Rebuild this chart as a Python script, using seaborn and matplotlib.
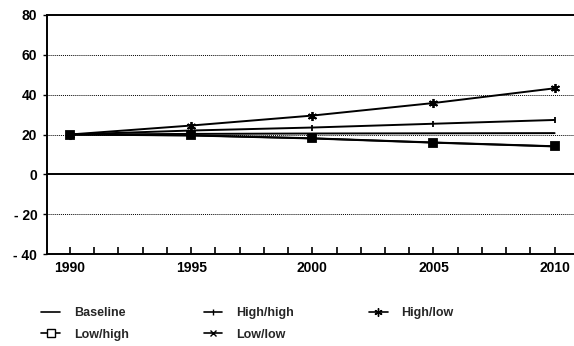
import matplotlib
matplotlib.use("Agg")
import matplotlib.pyplot as plt
import seaborn as sns
import pandas as pd
from matplotlib.ticker import MultipleLocator
from matplotlib.lines import Line2D

years = [1990, 1995, 2000, 2005, 2010]
series_names = ["Baseline", "High/high", "High/low", "Low/high", "Low/low"]
baseline = [20, 20.3, 20.5, 20.6, 20.7]
high_high = [20, 22, 23.5, 25.4, 27.3]
high_low = [20, 24.5, 29.5, 35.8, 43.2]
low_high = [20, 19.5, 18, 15.9, 14]
low_low = [20, 19.6, 18.1, 16.0, 14.1]
xtick_labels = ["1990", "1995", "2000", "2005", "2010"]
yticks = [-40, -20, 0, 20, 40, 60, 80]

values = [baseline, high_high, high_low, low_high, low_low]
markers = ["", "|", (6, 2, 0), "s", "x"]
msizes = [0, 4, 6.5, 6, 3.5]

sns.set_theme(style="white")
plt.rcParams["font.family"] = ["Liberation Sans", "DejaVu Sans"]

fig = plt.figure(figsize=(5.74, 3.46), dpi=100)
ax = fig.add_axes([47/574, 1 - 254/346, (574 - 47)/574, (254 - 15)/346])

for name, vals, mk, ms in zip(series_names, values, markers, msizes):
    df = pd.DataFrame({"year": years, "value": vals})
    sns.lineplot(data=df, x="year", y="value", ax=ax, color="black",
                 linewidth=1.4, marker=mk if mk else None, markersize=ms,
                 markeredgewidth=1.3, markeredgecolor="black",
                 markerfacecolor="black")

ax.set_xlim(1989.05, 2010.8)
ax.set_ylim(-40, 80)
ax.set_xticks(years)
ax.set_xticklabels(xtick_labels, fontsize=10, fontweight="bold")
ax.xaxis.set_minor_locator(MultipleLocator(1))
ax.set_yticks(yticks)
ax.set_yticklabels([str(v) if v >= 0 else "- " + str(-v) for v in yticks],
                   fontsize=10, fontweight="bold")
ax.tick_params(axis="x", which="both", direction="in", length=5, width=1.2,
               bottom=True, pad=5, colors="black")
ax.tick_params(axis="y", which="major", direction="out", length=3, width=1,
               left=True, pad=4, colors="black")
ax.set_xlabel("")
ax.set_ylabel("")

for v in [60, 40, 20, -20]:
    ax.axhline(v, color="black", linewidth=0.7, linestyle=(0, (1, 1)), zorder=0)
ax.axhline(0, color="black", linewidth=1.4, zorder=1)

for side in ["left", "bottom", "top"]:
    ax.spines[side].set_visible(True)
    ax.spines[side].set_color("black")
    ax.spines[side].set_linewidth(1.4)
ax.spines["right"].set_visible(False)

handles = []
for mk, ms in zip(markers, msizes):
    handles.append(Line2D([], [], color="black", linewidth=1.2,
                          marker=mk if mk else None,
                          markersize=max(ms * 0.9, 4) if mk else 0,
                          markerfacecolor="white" if mk == "s" else "black",
                          markeredgecolor="black", markeredgewidth=1))
order = [0, 3, 1, 4, 2]
leg = fig.legend([handles[i] for i in order], [series_names[i] for i in order],
                 ncol=3, loc="upper left", bbox_to_anchor=(30/574, 1 - 296/346),
                 frameon=False, prop={"size": 9, "weight": "bold"},
                 handlelength=1.5, columnspacing=6.0, labelspacing=0.75,
                 handletextpad=1.1)

fig.savefig("out.png", dpi=100)
